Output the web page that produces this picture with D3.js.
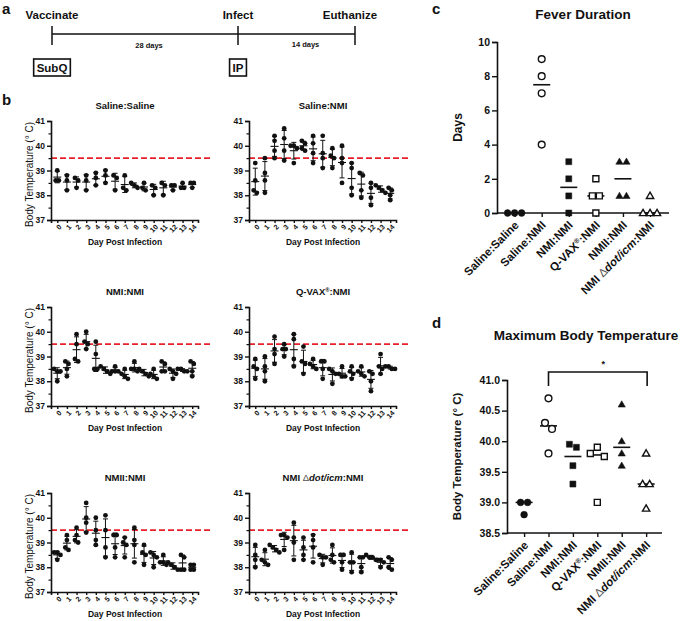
<!DOCTYPE html>
<html><head><meta charset="utf-8">
<script src="https://cdn.jsdelivr.net/npm/d3@7"></script>
<style>
body{margin:0;background:#fff}
svg{display:block}
text{font-family:"Liberation Sans", Arial, Helvetica, sans-serif; fill:#111}
</style>
</head><body>
<svg id="chart" width="685" height="621"></svg>
<script>
// ---------------- DATA ----------------
const timelineEvents = ["Vaccinate", "Infect", "Euthanize"];
const timelineDays = [0, 28, 42];
const timelineIntervals = ["28 days", "14 days"];
const timelineRoutes = ["SubQ", "IP"];

const days = [0,1,2,3,4,5,6,7,8,9,10,11,12,13,14];
const tempTicks = [37,38,39,40,41];
const tempMinorTicks = [37.5,38.5,39.5,40.5];
const feverThreshold = 39.5;

const salineSaline = [
 [39.0,38.6,38.6],[38.8,38.6,38.2],[38.7,38.6,38.3],[38.8,38.6,38.2],[38.9,38.7,38.4],
 [39.0,38.8,38.5],[38.8,38.7,38.2],[38.8,38.3,38.2],[38.5,38.4,38.3],[38.5,38.3,38.2],
 [38.4,38.3,38.0],[38.5,38.4,38.0],[38.4,38.4,38.2],[38.5,38.3,38.3],[38.5,38.5,38.3]];
const salineNMI = [
 [39.3,38.6,38.2,38.1],[39.5,38.9,38.6,38.1],[40.4,40.2,39.8,39.5],[40.7,40.3,39.8,39.4],[40.0,40.0,39.9,39.3],
 [40.2,40.1,39.9,39.8],[40.4,40.1,39.7,39.3],[40.4,39.7,39.5,39.1],[39.9,39.6,39.5,39.1],[40.0,39.5,39.3,38.5],
 [39.3,39.1,38.3,38.0],[38.9,38.8,38.2,37.9],[38.5,38.3,37.9,37.6],[38.4,38.3,38.2,38.1],[38.3,38.2,38.0,37.8]];
const nmiNMI = [
 [38.5,38.4,38.4,38.0],[38.8,38.7,38.5,38.2],[39.9,39.5,38.9,38.8],[40.0,39.6,39.5,39.3],[39.6,39.1,38.5,38.5],
 [38.6,38.5,38.4,38.3],[38.6,38.4,38.4,38.4],[38.5,38.3,38.2,38.1],[38.8,38.5,38.5,38.4],[38.5,38.4,38.3,38.2],
 [38.5,38.3,38.2,38.1],[38.8,38.7,38.4,38.4],[38.5,38.4,38.3,38.1],[38.5,38.5,38.4,38.4],[38.8,38.7,38.4,38.2]];
const qvaxNMI = [
 [38.9,38.6,38.5,38.1],[39.0,38.6,38.4,38.0],[39.8,39.3,39.1,38.7],[39.5,39.3,39.3,39.0],[39.9,39.7,38.9,38.6],
 [39.4,38.8,38.7,38.3],[38.9,38.7,38.6,38.5],[38.8,38.8,38.5,38.1],[38.5,38.4,38.3,37.9],[38.6,38.3,38.2,38.2],
 [38.6,38.4,38.3,38.1],[38.6,38.4,38.3,38.2],[38.4,38.3,38.0,37.6],[39.1,38.6,38.5,38.3],[38.6,38.6,38.5,38.5]];
const nmiiNMI = [
 [38.6,38.6,38.5,38.3],[39.3,39.1,38.8,38.7],[39.6,39.3,39.1,39.0],[40.6,40.0,39.8,39.4],[40.0,39.5,39.1,38.9],
 [40.1,39.5,38.8,38.4],[39.3,39.3,38.8,38.4],[39.2,39.0,38.9,38.4],[39.6,39.1,38.9,38.2],[38.9,38.6,38.5,38.1],
 [38.6,38.5,38.4,38.0],[38.5,38.2,38.2,38.1],[38.2,38.1,38.0,37.9],[38.5,38.4,37.9,37.9],[38.1,38.1,37.9,37.9]];
const dotNMI = [
 [38.9,38.5,38.3,38.0],[38.7,38.3,38.2,38.1],[38.9,38.8,38.7,38.6],[39.3,39.3,39.2,38.7],[39.8,39.2,39.0,38.3],
 [39.2,38.8,38.5,38.3],[39.3,39.1,38.8,38.2],[38.5,38.4,38.4,38.1],[38.9,38.5,38.3,38.2],[38.5,38.5,38.2,37.9],
 [38.6,38.2,38.2,37.8],[38.4,38.4,38.0,37.8],[38.5,38.4,38.4,38.3],[38.3,38.3,38.2,38.0],[38.4,38.3,38.0,37.9]];

const groupNames = ["Saline:Saline","Saline:NMI","NMI:NMI","Q-VAX®:NMI","NMII:NMI","NMI Δdot/icm:NMI"];
const tempSeries = [salineSaline, salineNMI, nmiNMI, qvaxNMI, nmiiNMI, dotNMI];

const feverTicks = [0,2,4,6,8,10];
const feverSalineSaline = [0,0,0];
const feverSalineNMI = [9,8,7,4];
const feverNMINMI = [3,2,1,0];
const feverQvaxNMI = [2,1,1,0];
const feverNMIINMI = [3,3,1,1];
const feverDotNMI = [1,0,0,0];
const feverData = [feverSalineSaline, feverSalineNMI, feverNMINMI, feverQvaxNMI, feverNMIINMI, feverDotNMI];

const maxTicks = [38.5,39.0,39.5,40.0,40.5,41.0];
const maxSalineSaline = [39.0,39.0,38.8];
const maxSalineNMI = [40.7,40.3,40.2,39.8];
const maxNMINMI = [39.95,39.9,39.6,39.3];
const maxQvaxNMI = [39.8,39.9,39.75,39.0];
const maxNMIINMI = [40.6,40.0,39.8,39.6];
const maxDotNMI = [39.8,39.3,39.3,38.9];
const maxData = [maxSalineSaline, maxSalineNMI, maxNMINMI, maxQvaxNMI, maxNMIINMI, maxDotNMI];
const sigPair = [1, 5];
const sigLabel = "*";

// ---------------- HELPERS ----------------
const svg = d3.select("#chart");
const RED = "#e8202a";

function groupLabel(sel, name) {
  if (name.includes("Δdot/icm")) {
    const parts = name.split("Δdot/icm");
    sel.append("tspan").text(parts[0]);
    sel.append("tspan").attr("font-weight", "normal").attr("fill", "#555").text("Δ");
    sel.append("tspan").attr("font-style", "italic").text("dot/icm");
    sel.append("tspan").text(parts[1]);
  } else if (name.includes("®")) {
    const parts = name.split("®");
    sel.append("tspan").text(parts[0]);
    sel.append("tspan").attr("font-size", "0.6em").attr("dy", "-0.6em").text("®");
    sel.append("tspan").attr("dy", "0.36em").text(parts[1]);
  } else {
    sel.text(name);
  }
}

function clusterOffsets(vals, yScale, thresh, spacing) {
  const idx = vals.map((v, i) => i).sort((a, b) => yScale(vals[a]) - yScale(vals[b]));
  const off = new Array(vals.length).fill(0);
  let cluster = [idx[0]];
  const flush = () => {
    const c = cluster.slice().sort((a, b) => a - b);
    c.forEach((k, j) => off[k] = (j - (c.length - 1) / 2) * spacing);
  };
  for (let j = 1; j < idx.length; j++) {
    if (Math.abs(yScale(vals[idx[j]]) - yScale(vals[idx[j - 1]])) < thresh) cluster.push(idx[j]);
    else { flush(); cluster = [idx[j]]; }
  }
  flush();
  return off;
}

function styleAxis(g, fs, weight) {
  g.select(".domain").attr("stroke", "#111").attr("stroke-width", 1.6);
  g.selectAll(".tick line").attr("stroke", "#111").attr("stroke-width", 1.4);
  g.selectAll(".tick text").attr("font-size", fs).attr("font-weight", weight || "bold").attr("fill", "#111")
    .attr("font-family", '"Liberation Sans", Arial, sans-serif');
}

// ---------------- PANEL A ----------------
(function () {
  const g = svg.append("g");
  g.append("text").attr("x", 2).attr("y", 14).attr("font-size", 15).attr("font-weight", "bold").text("a");
  const tx = d3.scaleLinear().domain(timelineDays).range([52, 238, 355]);
  const ly = 34;
  g.append("line").attr("x1", tx(timelineDays[0])).attr("x2", tx(timelineDays[2])).attr("y1", ly).attr("y2", ly)
    .attr("stroke", "#111").attr("stroke-width", 1.3);
  timelineDays.forEach((d, i) => {
    g.append("line").attr("x1", tx(d)).attr("x2", tx(d)).attr("y1", ly - 8).attr("y2", ly + 11)
      .attr("stroke", "#111").attr("stroke-width", 1.5);
    g.append("text").attr("x", tx(d) - (i === 2 ? 5 : 0)).attr("y", 19).attr("text-anchor", "middle")
      .attr("font-size", 11.5).attr("font-weight", "bold").text(timelineEvents[i]);
  });
  timelineIntervals.forEach((t, i) => {
    const xm = (tx(timelineDays[i]) + tx(timelineDays[i + 1])) / 2;
    g.append("text").attr("x", xm + (i === 0 ? 4 : 9)).attr("y", 48 - i).attr("text-anchor", "middle")
      .attr("font-size", 7.5).attr("font-weight", "bold").text(t);
  });
  timelineRoutes.forEach((t, i) => {
    const cx = tx(timelineDays[i]);
    const t1 = g.append("text").attr("x", cx).attr("y", 72).attr("text-anchor", "middle")
      .attr("font-size", 11.5).attr("font-weight", "bold").text(t);
    const w = t1.node().getComputedTextLength();
    g.insert("rect", "text").attr("x", cx - w / 2 - 3).attr("y", 59).attr("width", w + 6).attr("height", 17)
      .attr("fill", "none").attr("stroke", "#111").attr("stroke-width", 1.6);
  });
})();

// ---------------- PANEL B ----------------
svg.append("text").attr("x", 2).attr("y", 105).attr("font-size", 15).attr("font-weight", "bold").text("b");
const colX = [51, 249];
const rowY = [121, 307, 493];
const plotW = 147, plotH = 99;

tempSeries.forEach((series, gi) => {
  const col = gi % 2, row = Math.floor(gi / 2);
  const x0 = colX[col], yTop = rowY[row];
  const x = d3.scaleLinear().domain([-0.65, 14.6]).range([x0, x0 + plotW]);
  const y = d3.scaleLinear().domain([37, 41]).range([yTop + plotH, yTop]);
  const g = svg.append("g");

  const t = g.append("text").attr("x", x0 + 74).attr("y", yTop - 12).attr("text-anchor", "middle")
    .attr("font-size", 9.5).attr("font-weight", "bold");
  groupLabel(t, groupNames[gi]);

  g.append("line").attr("x1", x0).attr("x2", x0 + 162).attr("y1", y(feverThreshold)).attr("y2", y(feverThreshold))
    .attr("stroke", RED).attr("stroke-width", 1.6).attr("stroke-dasharray", "6,3");

  const ya = g.append("g").attr("transform", `translate(${x0},0)`)
    .call(d3.axisLeft(y).tickValues(tempTicks).tickSize(4).tickPadding(2).tickFormat(d3.format("d")));
  styleAxis(ya, 8.5);
  const ym = g.append("g").attr("transform", `translate(${x0},0)`)
    .call(d3.axisLeft(y).tickValues(tempMinorTicks).tickSize(2.5).tickFormat(""));
  ym.select(".domain").remove();
  ym.selectAll(".tick line").attr("stroke", "#111").attr("stroke-width", 1.2);

  const xa = g.append("g").attr("transform", `translate(0,${yTop + plotH})`)
    .call(d3.axisBottom(x).tickValues(days).tickSize(3).tickFormat(d3.format("d")));
  styleAxis(xa, 7.2);
  xa.selectAll(".tick text").attr("text-anchor", "end").attr("dy", null).attr("y", null)
    .attr("transform", "translate(3,6) rotate(-45)").attr("dominant-baseline", "middle");

  if (col === 0) {
    g.append("text").attr("transform", `translate(${x0 - 18},${yTop + plotH / 2 + 4}) rotate(-90)`)
      .attr("text-anchor", "middle").attr("font-size", 10).text("Body Temperature (° C)");
  }
  g.append("text").attr("x", x0 + 74).attr("y", yTop + plotH + 25).attr("text-anchor", "middle")
    .attr("font-size", 8.5).attr("font-weight", "bold").text("Day Post Infection");

  series.forEach((vals, di) => {
    const cx = x(days[di]);
    const m = d3.mean(vals), sd = d3.deviation(vals);
    const off = clusterOffsets(vals, y, 4, 3.2);
    vals.forEach((v, k) => {
      g.append("circle").attr("cx", cx + off[k]).attr("cy", y(v)).attr("r", 2.4).attr("fill", "#111");
    });
    g.append("line").attr("x1", cx).attr("x2", cx).attr("y1", y(m - sd)).attr("y2", y(m + sd))
      .attr("stroke", "#111").attr("stroke-width", 1);
    [m - sd, m + sd].forEach(v => g.append("line").attr("x1", cx - 2.5).attr("x2", cx + 2.5)
      .attr("y1", y(v)).attr("y2", y(v)).attr("stroke", "#111").attr("stroke-width", 1));
    g.append("line").attr("x1", cx - 4).attr("x2", cx + 4).attr("y1", y(m)).attr("y2", y(m))
      .attr("stroke", "#111").attr("stroke-width", 1.1);
  });
});

// ---------------- PANELS C & D ----------------
const markerDefs = [
  {type: d3.symbolCircle, size: 36, fill: true},
  {type: d3.symbolCircle, size: 36, fill: false},
  {type: d3.symbolSquare, size: 36, fill: true},
  {type: d3.symbolSquare, size: 36, fill: false},
  {type: d3.symbolTriangle, size: 23, fill: true},
  {type: d3.symbolTriangle, size: 23, fill: false}
];

function scatterPanel(opts) {
  const g = svg.append("g");
  const x = d3.scaleLinear().domain(opts.xDomain).range([opts.x0, opts.x1]);
  const y = d3.scaleLinear().domain(opts.yDomain).range([opts.yBottom, opts.yTop]);
  g.append("text").attr("x", opts.letterX).attr("y", opts.letterY).attr("font-size", 15).attr("font-weight", "bold").text(opts.letter);
  g.append("text").attr("x", opts.titleX).attr("y", opts.titleY).attr("text-anchor", "middle")
    .attr("font-size", 13.5).attr("font-weight", "bold").text(opts.title);

  const ya = g.append("g").attr("transform", `translate(${opts.x0},0)`)
    .call(d3.axisLeft(y).tickValues(opts.ticks).tickSize(5).tickPadding(2).tickFormat(opts.fmt));
  styleAxis(ya, 10.5);
  const xa = g.append("g").attr("transform", `translate(0,${opts.yBottom})`)
    .call(d3.axisBottom(x).tickValues(d3.range(groupNames.length)).tickSize(4).tickFormat(""));
  styleAxis(xa, 10);
  xa.select(".domain").attr("d", `M${opts.x0},0H${opts.x1}`);
  groupNames.forEach((n, i) => {
    const t = g.append("text").attr("font-size", 11.5).attr("font-weight", "bold").attr("text-anchor", "end")
      .attr("transform", `translate(${x(i) + 2},${opts.yBottom + 10}) rotate(-45)`).attr("dy", "0.35em");
    groupLabel(t, n);
  });

  g.append("text").attr("transform", `translate(${opts.ylabX},${(opts.yTop + opts.yBottom) / 2}) rotate(-90)`)
    .attr("text-anchor", "middle").attr("font-size", opts.ylabSize).attr("font-weight", "bold").text(opts.ylab);

  opts.data.forEach((vals, gi) => {
    const cx = x(gi);
    const med = d3.median(vals);
    g.append("line").attr("x1", cx - 8.5).attr("x2", cx + 8.5).attr("y1", y(med)).attr("y2", y(med))
      .attr("stroke", "#111").attr("stroke-width", 1.6);
    const off = clusterOffsets(vals, y, 7, 7);
    const md = markerDefs[gi];
    vals.forEach((v, k) => {
      g.append("path").attr("d", d3.symbol().type(md.type).size(md.size)())
        .attr("transform", `translate(${cx + off[k]},${y(v) + (md.type === d3.symbolTriangle ? 0.5 : 0)})`)
        .attr("fill", md.fill ? "#111" : "#fff").attr("stroke", "#111").attr("stroke-width", md.fill ? 0.5 : 1.4);
    });
  });
  return {g, x, y};
}

scatterPanel({
  letter: "c", letterX: 432, letterY: 14, title: "Fever Duration", titleX: 583, titleY: 19,
  x0: 497, x1: 669, xDomain: [-0.65, 5.7], yTop: 42, yBottom: 213, yDomain: [0, 10],
  ticks: feverTicks, fmt: d3.format("d"), data: feverData,
  ylab: "Days", ylabX: 462, ylabSize: 12
});

const pd = scatterPanel({
  letter: "d", letterX: 432, letterY: 328, title: "Maximum Body Temperature", titleX: 586, titleY: 340,
  x0: 507, x1: 662, xDomain: [-0.7, 5.65], yTop: 380, yBottom: 533, yDomain: [38.5, 41],
  ticks: maxTicks, fmt: d3.format(".1f"), data: maxData,
  ylab: "Body Temperature (° C)", ylabX: 461, ylabSize: 11.5
});
(function () {
  const {g, x} = pd;
  const yb = 372, leg = 14;
  g.append("path").attr("d", `M${x(sigPair[0])},${yb + leg}V${yb}H${x(sigPair[1]) + 1}V${yb + leg}`)
    .attr("fill", "none").attr("stroke", "#111").attr("stroke-width", 1.6);
  g.append("text").attr("x", (x(sigPair[0]) + x(sigPair[1])) / 2 + 6).attr("y", 367).attr("text-anchor", "middle")
    .attr("font-size", 9).attr("font-weight", "bold").text(sigLabel);
})();
</script>
</body></html>
